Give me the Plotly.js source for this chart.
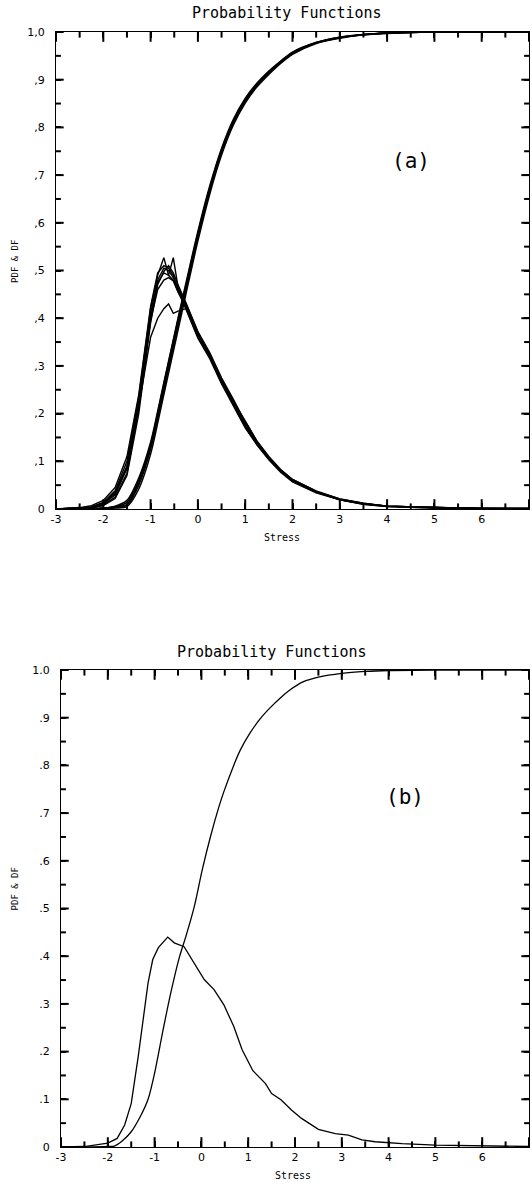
<!DOCTYPE html>
<html>
<head>
<meta charset="utf-8">
<script src="https://cdn.plot.ly/plotly-3.0.1.min.js"></script>
<style>html,body{margin:0;padding:0;background:#fff;}#chart{width:532px;height:1184px;}</style>
</head>
<body>
<div id="chart"></div>
<script>
// ---------- Panel (a): several overlapping sample PDFs and DFs ----------
const stressA = [-3, -2.5, -2.25, -2, -1.75, -1.5, -1.25, -1, -0.85, -0.72, -0.62, -0.52, -0.42, -0.25, 0, 0.25, 0.5, 0.75, 1, 1.25, 1.5, 1.75, 2, 2.5, 3, 3.5, 4, 5, 6, 7];

const pdfA1 = [0, 0.001, 0.003, 0.010, 0.030, 0.085, 0.220, 0.410, 0.480, 0.505, 0.500, 0.485, 0.460, 0.425, 0.365, 0.320, 0.268, 0.222, 0.175, 0.138, 0.106, 0.080, 0.060, 0.036, 0.020, 0.011, 0.006, 0.003, 0.001, 0.001];
const pdfA2 = [0, 0.002, 0.005, 0.014, 0.038, 0.100, 0.235, 0.420, 0.490, 0.527, 0.490, 0.480, 0.455, 0.420, 0.360, 0.318, 0.265, 0.218, 0.172, 0.135, 0.104, 0.078, 0.058, 0.035, 0.019, 0.010, 0.005, 0.002, 0.001, 0];
const pdfA3 = [0, 0.001, 0.002, 0.008, 0.025, 0.075, 0.210, 0.400, 0.475, 0.495, 0.490, 0.527, 0.465, 0.430, 0.370, 0.325, 0.272, 0.228, 0.180, 0.140, 0.108, 0.082, 0.062, 0.037, 0.021, 0.012, 0.006, 0.003, 0.001, 0.001];
const pdfA4 = [0, 0.001, 0.004, 0.012, 0.035, 0.090, 0.215, 0.360, 0.400, 0.420, 0.430, 0.410, 0.415, 0.420, 0.370, 0.322, 0.270, 0.225, 0.185, 0.142, 0.108, 0.080, 0.060, 0.036, 0.020, 0.011, 0.006, 0.003, 0.001, 0.001];
const pdfA5 = [0, 0.001, 0.003, 0.011, 0.032, 0.088, 0.225, 0.395, 0.460, 0.480, 0.485, 0.478, 0.455, 0.428, 0.368, 0.322, 0.270, 0.225, 0.178, 0.140, 0.107, 0.079, 0.059, 0.036, 0.020, 0.011, 0.006, 0.003, 0.001, 0.001];
const pdfA6 = [0, 0.003, 0.007, 0.018, 0.045, 0.110, 0.240, 0.425, 0.495, 0.510, 0.505, 0.490, 0.462, 0.418, 0.358, 0.315, 0.262, 0.215, 0.170, 0.134, 0.103, 0.077, 0.057, 0.034, 0.019, 0.010, 0.005, 0.002, 0.001, 0];
const pdfA7 = [0, 0.001, 0.002, 0.007, 0.022, 0.070, 0.200, 0.390, 0.470, 0.498, 0.510, 0.495, 0.470, 0.432, 0.372, 0.328, 0.275, 0.230, 0.183, 0.142, 0.110, 0.083, 0.062, 0.038, 0.021, 0.012, 0.006, 0.003, 0.001, 0.001];

const dfA1 = [0, 0, 0, 0.001, 0.003, 0.008, 0.050, 0.125, 0.190, 0.250, 0.295, 0.340, 0.385, 0.460, 0.570, 0.667, 0.748, 0.810, 0.855, 0.888, 0.914, 0.936, 0.955, 0.977, 0.988, 0.994, 0.998, 1, 1, 1];
const dfA2 = [0, 0, 0, 0.002, 0.005, 0.014, 0.060, 0.135, 0.200, 0.262, 0.307, 0.352, 0.397, 0.470, 0.578, 0.673, 0.753, 0.814, 0.858, 0.891, 0.916, 0.938, 0.957, 0.978, 0.989, 0.995, 0.998, 1, 1, 1];
const dfA3 = [0, 0, 0, 0, 0.002, 0.005, 0.042, 0.115, 0.180, 0.240, 0.285, 0.330, 0.375, 0.452, 0.562, 0.660, 0.742, 0.805, 0.851, 0.885, 0.911, 0.934, 0.953, 0.976, 0.987, 0.994, 0.997, 1, 1, 1];
const dfA4 = [0, 0, 0.001, 0.002, 0.006, 0.018, 0.065, 0.140, 0.205, 0.265, 0.310, 0.355, 0.400, 0.475, 0.582, 0.677, 0.756, 0.817, 0.861, 0.893, 0.918, 0.939, 0.958, 0.978, 0.989, 0.995, 0.998, 1, 1, 1];
const dfA5 = [0, 0, 0, 0.001, 0.004, 0.010, 0.055, 0.130, 0.195, 0.255, 0.300, 0.345, 0.390, 0.465, 0.574, 0.670, 0.750, 0.812, 0.856, 0.889, 0.915, 0.937, 0.956, 0.977, 0.988, 0.994, 0.998, 1, 1, 1];

// ---------- Panel (b): one PDF and one DF ----------
const stressPdfB = [-3, -2.5, -2, -1.8, -1.64, -1.5, -1.35, -1.25, -1.14, -1.04, -0.92, -0.72, -0.58, -0.37, -0.15, 0.06, 0.27, 0.48, 0.69, 0.87, 1.1, 1.37, 1.5, 1.7, 1.93, 2.14, 2.5, 2.86, 3.14, 3.43, 3.71, 4.29, 5, 6, 7];
const pdfB = [0, 0.001, 0.008, 0.018, 0.046, 0.091, 0.190, 0.265, 0.344, 0.393, 0.418, 0.440, 0.428, 0.420, 0.386, 0.351, 0.330, 0.298, 0.253, 0.204, 0.160, 0.133, 0.112, 0.099, 0.077, 0.060, 0.037, 0.028, 0.025, 0.015, 0.011, 0.007, 0.004, 0.002, 0.001];

const stressDfB = [-3, -2.5, -2, -1.86, -1.7, -1.5, -1.3, -1.14, -1, -0.82, -0.65, -0.47, -0.33, -0.15, 0.02, 0.2, 0.37, 0.48, 0.69, 0.83, 1.04, 1.25, 1.46, 1.68, 1.89, 2.17, 2.5, 3, 3.5, 4, 5, 6, 7];
const dfB = [0, 0, 0.001, 0.002, 0.012, 0.032, 0.065, 0.100, 0.155, 0.245, 0.325, 0.398, 0.442, 0.505, 0.582, 0.653, 0.712, 0.745, 0.800, 0.832, 0.868, 0.897, 0.920, 0.941, 0.958, 0.975, 0.985, 0.993, 0.997, 0.999, 1, 1, 1];

// ---------- tick positions and labels ----------
const xRange = [-3, 7];
const yRange = [0, 1.0];
const xMajorTicks = [-3, -2, -1, 0, 1, 2, 3, 4, 5, 6, 7];
const xMinorTicks = [-2.5, -1.5, -0.5, 0.5, 1.5, 2.5, 3.5, 4.5, 5.5, 6.5];
const yMajorTicks = [0, 0.1, 0.2, 0.3, 0.4, 0.5, 0.6, 0.7, 0.8, 0.9, 1.0];
const yMinorTicks = [0.05, 0.15, 0.25, 0.35, 0.45, 0.55, 0.65, 0.75, 0.85, 0.95];
const xTickText = ['-3', '-2', '-1', '0', '1', '2', '3', '4', '5', '6', '7'];
const yTickTextA = ['0', ',1', ',2', ',3', ',4', ',5', ',6', ',7', ',8', ',9', '1,0'];
const yTickTextB = ['0', '.1', '.2', '.3', '.4', '.5', '.6', '.7', '.8', '.9', '1.0'];

const titleText = 'Probability Functions';
const xTitle = 'Stress';
const yTitle = 'PDF &amp; DF';

// ---------- traces ----------
const ink = '#000000';
const traces = [];
[pdfA1, pdfA2, pdfA3, pdfA4, pdfA5, pdfA6, pdfA7].forEach(y => traces.push({
  x: stressA, y: y, xaxis: 'x', yaxis: 'y', type: 'scatter', mode: 'lines',
  line: {color: ink, width: 1.4}, hoverinfo: 'skip'
}));
[dfA1, dfA2, dfA3, dfA4, dfA5].forEach(y => traces.push({
  x: stressA, y: y, xaxis: 'x', yaxis: 'y', type: 'scatter', mode: 'lines',
  line: {color: ink, width: 1.5, shape: 'spline', smoothing: 0.8}, hoverinfo: 'skip'
}));
traces.push({x: stressPdfB, y: pdfB, xaxis: 'x2', yaxis: 'y2', type: 'scatter', mode: 'lines',
  line: {color: ink, width: 1.3}, hoverinfo: 'skip'});
traces.push({x: stressDfB, y: dfB, xaxis: 'x2', yaxis: 'y2', type: 'scatter', mode: 'lines',
  line: {color: ink, width: 1.3, shape: 'spline', smoothing: 0.8}, hoverinfo: 'skip'});

// inward tick marks on the four frame edges: line markers centred on the frame,
// the outer half is clipped away by the plot area
function tickTraces(xa, ya) {
  const out = [];
  const add = (xs, ys, sym, size) => out.push({
    x: xs, y: ys, xaxis: xa, yaxis: ya, type: 'scatter', mode: 'markers', cliponaxis: true,
    marker: {symbol: sym, size: size, color: ink, line: {color: ink, width: 2}}, hoverinfo: 'skip'
  });
  [[xMajorTicks, 14], [xMinorTicks, 8]].forEach(([t, sz]) => {
    add(t.concat(t), t.map(() => yRange[0]).concat(t.map(() => yRange[1])), 'line-ns-open', sz);
  });
  [[yMajorTicks, 11], [yMinorTicks, 7]].forEach(([t, sz]) => {
    add(t.map(() => xRange[0]).concat(t.map(() => xRange[1])), t.concat(t), 'line-ew-open', sz);
  });
  return out;
}
tickTraces('x', 'y').forEach(t => traces.push(t));
tickTraces('x2', 'y2').forEach(t => traces.push(t));

const tickFont = {family: 'DejaVu Sans, sans-serif', size: 11, color: ink};
function xAxis(domain, anchor) {
  return {
    domain: domain, anchor: anchor, range: xRange,
    tickmode: 'array', tickvals: xMajorTicks, ticktext: xTickText,
    ticks: 'inside', ticklen: 6, tickwidth: 1.5, tickcolor: ink,
    showline: true, linecolor: ink, linewidth: 1.3, mirror: 'ticks',
    showgrid: false, zeroline: false, tickfont: tickFont, fixedrange: true
  };
}
function yAxis(domain, anchor, ticktext) {
  return {
    domain: domain, anchor: anchor, range: yRange,
    tickmode: 'array', tickvals: yMajorTicks, ticktext: ticktext,
    ticks: 'inside', ticklen: 5, tickwidth: 1.5, tickcolor: ink,
    showline: true, linecolor: ink, linewidth: 1.3, mirror: 'ticks',
    showgrid: false, zeroline: false, tickfont: tickFont, ticklabelstandoff: 8, fixedrange: true
  };
}

const labFont = {family: 'DejaVu Sans Mono, monospace', size: 15, color: ink};
const smallFont = {family: 'DejaVu Sans Mono, monospace', size: 10, color: ink};
const yTitleFont = {family: 'DejaVu Sans Mono, monospace', size: 9, color: ink};
const panelFont = {family: 'DejaVu Sans Mono, monospace', size: 21, color: ink};

const layout = {
  width: 532, height: 1184,
  margin: {l: 56, r: 3, t: 32, b: 37},
  paper_bgcolor: '#fff', plot_bgcolor: '#fff', showlegend: false,
  xaxis: xAxis([0, 1], 'y'),
  yaxis: yAxis([0.5722, 1], 'x', yTickTextA),
  xaxis2: xAxis([0.0106, 1], 'y2'),
  yaxis2: yAxis([0, 0.4278], 'x2', yTickTextB),
  annotations: [
    {text: titleText, xref: 'x', yref: 'y domain', x: 1.88, y: 1, yshift: 19, showarrow: false, font: labFont, xanchor: 'center', yanchor: 'middle'},
    {text: xTitle, xref: 'x', yref: 'y domain', x: 1.78, y: 0, yshift: -29, showarrow: false, font: smallFont, xanchor: 'center', yanchor: 'middle'},
    {text: yTitle, xref: 'x domain', yref: 'y', x: 0, xshift: -41, y: 0.518, textangle: -90, showarrow: false, font: yTitleFont, xanchor: 'center', yanchor: 'middle'},
    {text: '(a)', xref: 'x', yref: 'y', x: 4.5, y: 0.73, showarrow: false, font: panelFont},
    {text: titleText, xref: 'x2', yref: 'y2 domain', x: 1.51, y: 1, yshift: 18, showarrow: false, font: labFont, xanchor: 'center', yanchor: 'middle'},
    {text: xTitle, xref: 'x2', yref: 'y2 domain', x: 1.95, y: 0, yshift: -28, showarrow: false, font: smallFont, xanchor: 'center', yanchor: 'middle'},
    {text: yTitle, xref: 'x2 domain', yref: 'y2', x: 0, xshift: -46, y: 0.54, textangle: -90, showarrow: false, font: yTitleFont, xanchor: 'center', yanchor: 'middle'},
    {text: '(b)', xref: 'x2', yref: 'y2', x: 4.36, y: 0.733, showarrow: false, font: panelFont}
  ]
};

Plotly.newPlot('chart', traces, layout, {displayModeBar: false});
</script>
</body>
</html>
